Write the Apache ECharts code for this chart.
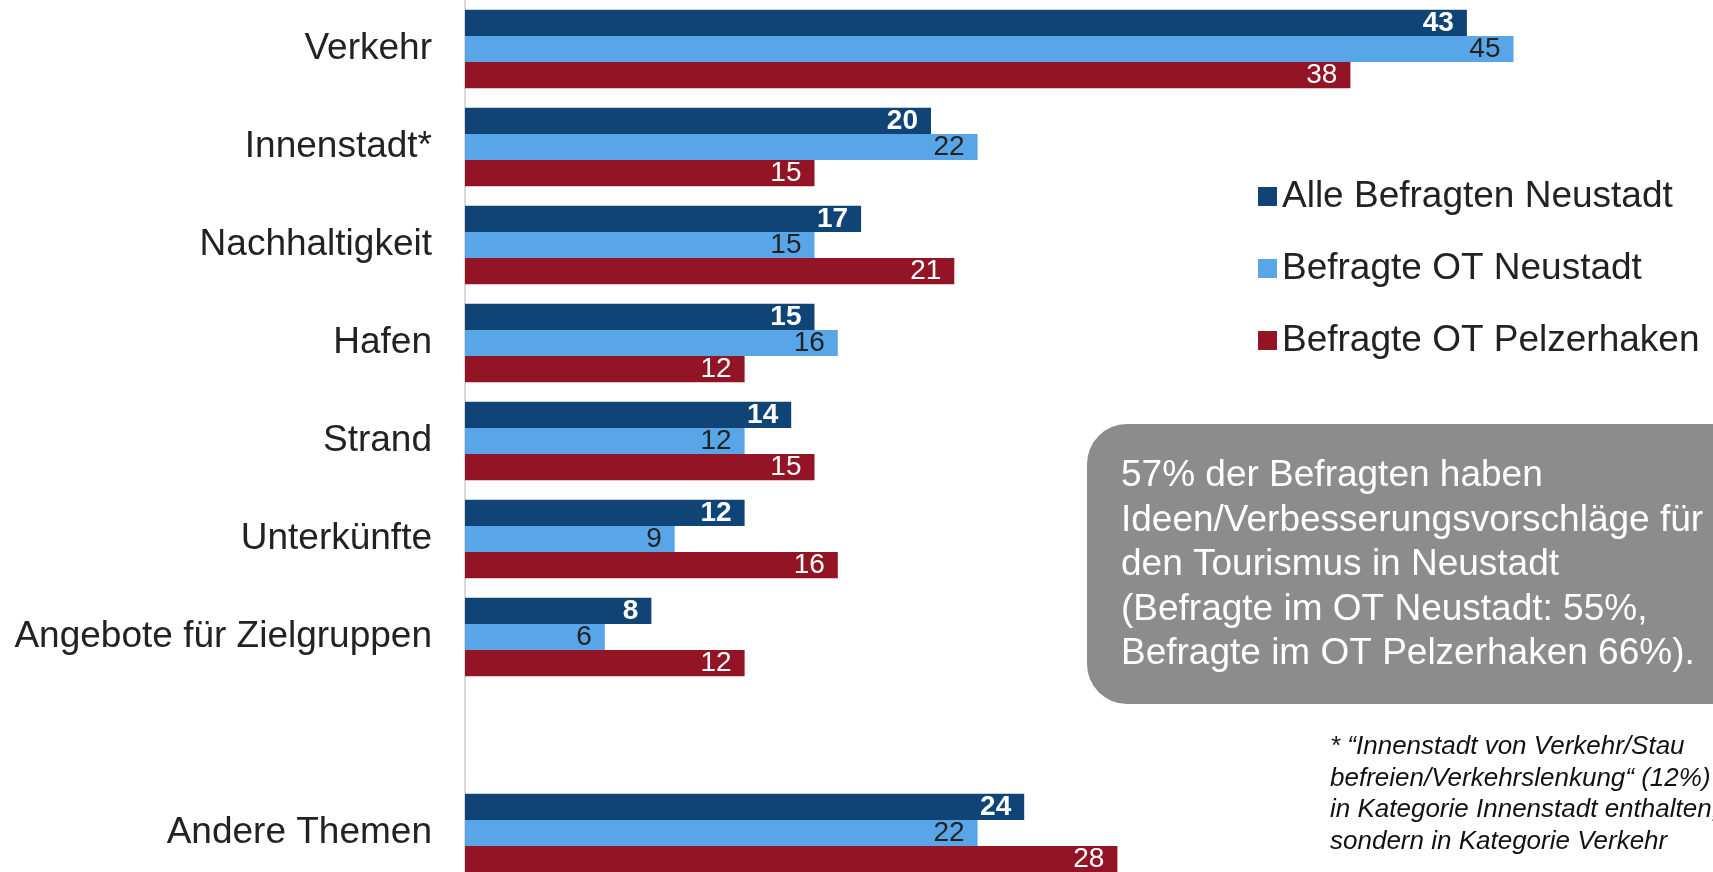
<!DOCTYPE html>
<html>
<head>
<meta charset="utf-8">
<script src="https://cdn.jsdelivr.net/npm/echarts@6/dist/echarts.min.js"></script>
<style>
  html, body { margin: 0; padding: 0; background: #fff; }
  #chart { width: 1713px; height: 872px; }
</style>
</head>
<body>
<div id="chart"></div>
<script>
const categories = ['Verkehr', 'Innenstadt*', 'Nachhaltigkeit', 'Hafen', 'Strand', 'Unterkünfte', 'Angebote für Zielgruppen', '', 'Andere Themen'];
const seriesNames = ['Alle Befragten Neustadt', 'Befragte OT Neustadt', 'Befragte OT Pelzerhaken'];
const alleNeustadt = [43, 20, 17, 15, 14, 12, 8, null, 24];
const otNeustadt = [45, 22, 15, 16, 12, 9, 6, null, 22];
const otPelzerhaken = [38, 15, 21, 12, 15, 16, 12, null, 28];

const boxLines = [
  '57% der Befragten haben',
  'Ideen/Verbesserungsvorschläge für',
  'den Tourismus in Neustadt',
  '(Befragte im OT Neustadt: 55%,',
  'Befragte im OT Pelzerhaken 66%).'
];
const noteLines = [
  '* “Innenstadt von Verkehr/Stau',
  'befreien/Verkehrslenkung“ (12%) nicht',
  'in Kategorie Innenstadt enthalten,',
  'sondern in Kategorie Verkehr'
];

const colors = ['#104476', '#58a6e8', '#921425'];
const font = '"Liberation Sans", Arial, sans-serif';

const chart = echarts.init(document.getElementById('chart'));

function barSeries(name, data, color, labelColor, bold) {
  return {
    name: name,
    type: 'bar',
    data: data,
    barGap: '0%',
    barCategoryGap: '20%',
    itemStyle: { color: color },
    label: {
      show: true,
      position: 'insideRight',
      distance: 13,
      color: labelColor,
      fontFamily: font,
      fontSize: 28,
      fontWeight: bold ? 'bold' : 'normal'
    }
  };
}

chart.setOption({
  backgroundColor: '#fff',
  animation: false,
  grid: { left: 465, right: 83, top: 0, height: 882, containLabel: false, outerBoundsMode: 'none' },
  xAxis: {
    type: 'value',
    min: 0,
    max: 50,
    show: false
  },
  yAxis: {
    type: 'category',
    data: categories,
    inverse: true,
    axisLine: { show: true, lineStyle: { color: '#d9d9d9', width: 2 } },
    axisTick: { show: false },
    axisLabel: { color: '#222', fontFamily: font, fontSize: 37, margin: 33 }
  },
  legend: {
    orient: 'vertical',
    left: 1253,
    top: 173,
    itemWidth: 19,
    itemHeight: 19,
    itemGap: 35,
    icon: 'rect',
    textStyle: { color: '#222', fontFamily: font, fontSize: 37 },
    data: seriesNames
  },
  series: [
    barSeries(seriesNames[0], alleNeustadt, colors[0], '#fff', true),
    barSeries(seriesNames[1], otNeustadt, colors[1], '#222', false),
    barSeries(seriesNames[2], otPelzerhaken, colors[2], '#fff', false)
  ],
  graphic: [
    {
      type: 'rect',
      left: 1087,
      top: 424,
      shape: { width: 700, height: 280, r: 40 },
      style: { fill: '#8c8c8c' }
    },
    {
      type: 'text',
      left: 1121,
      top: 454,
      style: {
        text: boxLines.join('\n'),
        fill: '#fff',
        font: '37px ' + font,
        lineHeight: 44.5
      }
    },
    {
      type: 'text',
      left: 1330,
      top: 731,
      style: {
        text: noteLines.join('\n'),
        fill: '#111',
        font: 'italic 26px ' + font,
        lineHeight: 31.7
      }
    }
  ]
});
</script>
</body>
</html>
